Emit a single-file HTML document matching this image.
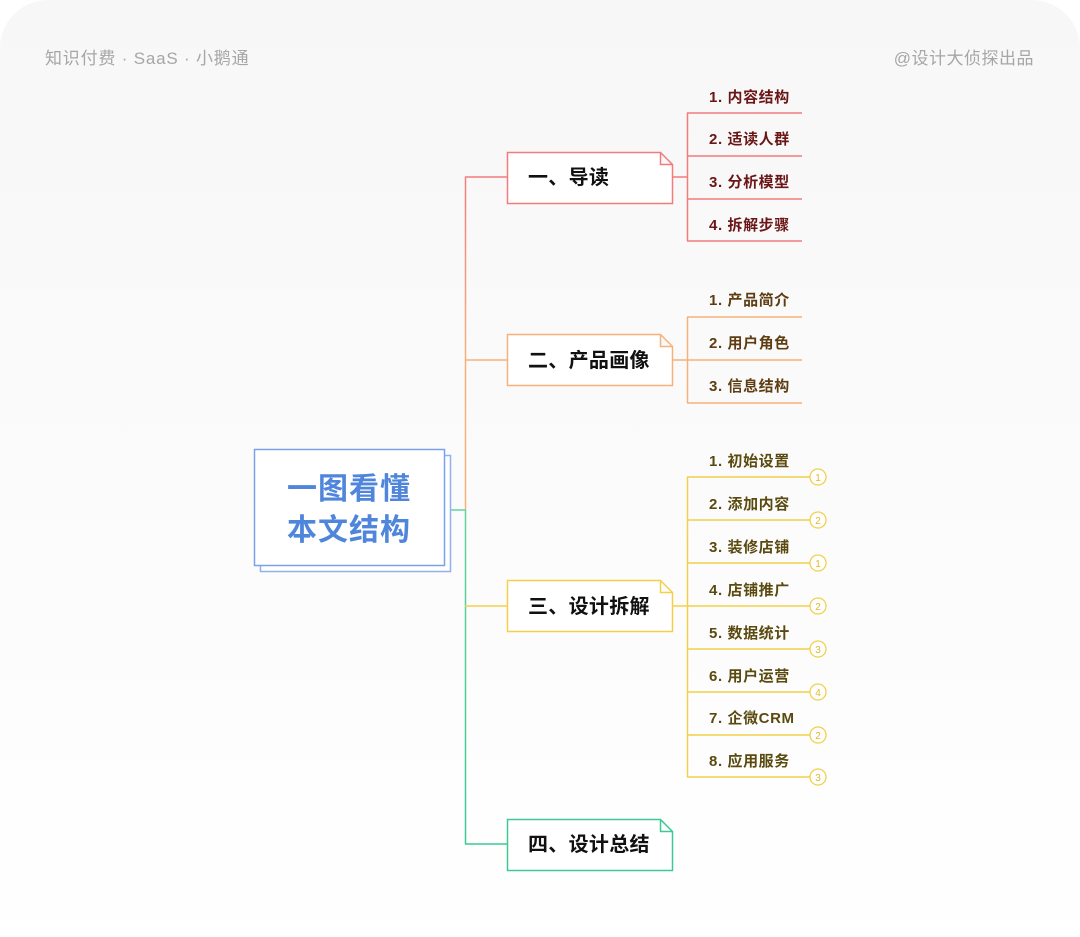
<!DOCTYPE html>
<html><head><meta charset="utf-8"><style>
html,body{margin:0;padding:0;background:#fff;}
body{width:1080px;height:937px;overflow:hidden;}
svg{display:block;font-family:"Liberation Sans","Noto Sans CJK SC",sans-serif;}
</style></head><body>
<svg width="1080" height="937" viewBox="0 0 1080 937">
<defs>
<linearGradient id="bg" x1="0" y1="0" x2="0" y2="1"><stop offset="0" stop-color="#f7f7f7"/><stop offset="1" stop-color="#ffffff"/></linearGradient>
<linearGradient id="tr" x1="0" y1="177" x2="0" y2="844" gradientUnits="userSpaceOnUse">
<stop offset="0" stop-color="#f47b7b"/><stop offset="0.25" stop-color="#f6ad7c"/><stop offset="0.5" stop-color="#f6b27a"/><stop offset="0.5" stop-color="#5fd4a0"/><stop offset="1" stop-color="#3cc994"/></linearGradient>
</defs>
<rect x="0" y="0" width="1080" height="960" rx="48" fill="url(#bg)"/>
<text x="45" y="64" font-size="17" letter-spacing="0.8" fill="#a6a6a6">知识付费 · SaaS · 小鹅通</text>
<text x="1034" y="64" font-size="17" letter-spacing="0.5" fill="#a6a6a6" text-anchor="end">@设计大侦探出品</text>

<path d="M465.5 177V844" stroke="url(#tr)" stroke-width="1.5" fill="none"/>
<path d="M465 177H507" stroke="#f47b7b" stroke-width="1.5"/>
<path d="M465 360H507" stroke="#f6b27a" stroke-width="1.5"/>
<path d="M465 606H507" stroke="#f2d04a" stroke-width="1.5"/>
<path d="M465 844H507" stroke="#3cc994" stroke-width="1.5"/>
<path d="M450 510H466" stroke="#5fd4a0" stroke-width="1.5"/>

<rect x="260.5" y="455.5" width="190" height="116" fill="#fff" stroke="#8fb2ee" stroke-width="1.5"/>
<rect x="254.5" y="449.5" width="190" height="116" fill="#fff" stroke="#7aa2ea" stroke-width="1.5"/>
<text x="349" y="499" font-size="30" font-weight="bold" letter-spacing="1" fill="#4f86dc" text-anchor="middle">一图看懂</text>
<text x="349" y="540" font-size="30" font-weight="bold" letter-spacing="1" fill="#4f86dc" text-anchor="middle">本文结构</text>

<g stroke-width="1.5" fill="#fff">
<path d="M507.5 152.5H660.5L672.5 164.5V203.5H507.5Z M660.5 152.5V164.5H672.5" stroke="#f47b7b"/>
<path d="M507.5 334.5H660.5L672.5 346.5V385.5H507.5Z M660.5 334.5V346.5H672.5" stroke="#f6b27a"/>
<path d="M507.5 580.5H660.5L672.5 592.5V631.5H507.5Z M660.5 580.5V592.5H672.5" stroke="#f2d04a"/>
<path d="M507.5 819.5H660.5L672.5 831.5V870.5H507.5Z M660.5 819.5V831.5H672.5" stroke="#3cc994"/>
</g>
<g font-size="20" font-weight="bold" fill="#111" letter-spacing="0.3">
<text x="528" y="184">一、导读</text>
<text x="528" y="367">二、产品画像</text>
<text x="528" y="613">三、设计拆解</text>
<text x="528" y="851">四、设计总结</text>
</g>

<g stroke="#f47b7b" stroke-width="1.5" fill="none">
<path d="M672 177H687.5M687.5 113V241M687 113H802M687 156H802M687 199H802M687 241H802"/>
</g>
<g font-size="15" font-weight="bold" fill="#6b1616" letter-spacing="0.6">
<text x="709" y="102">1. 内容结构</text>
<text x="709" y="144">2. 适读人群</text>
<text x="709" y="187">3. 分析模型</text>
<text x="709" y="230">4. 拆解步骤</text>
</g>

<g stroke="#f6b27a" stroke-width="1.5" fill="none">
<path d="M672 360H687.5M687.5 317V403M687 317H802M687 360H802M687 403H802"/>
</g>
<g font-size="15" font-weight="bold" fill="#5e3d12" letter-spacing="0.6">
<text x="709" y="305">1. 产品简介</text>
<text x="709" y="348">2. 用户角色</text>
<text x="709" y="391">3. 信息结构</text>
</g>

<g stroke="#f2d04a" stroke-width="1.5" fill="none">
<path d="M672 606H687.5M687.5 477V777M687 477H810M687 520H810M687 563H810M687 606H810M687 649H810M687 692H810M687 735H810M687 777H810"/>
</g>
<g stroke="#f2d04a" stroke-width="1.3" fill="#fff">
<circle cx="818" cy="477" r="8"/><circle cx="818" cy="520" r="8"/><circle cx="818" cy="563" r="8"/><circle cx="818" cy="606" r="8"/>
<circle cx="818" cy="649" r="8"/><circle cx="818" cy="692" r="8"/><circle cx="818" cy="735" r="8"/><circle cx="818" cy="777" r="8"/>
</g>
<g font-size="10" fill="#e0b830" text-anchor="middle">
<text x="818" y="481">1</text><text x="818" y="524">2</text><text x="818" y="567">1</text><text x="818" y="610">2</text>
<text x="818" y="653">3</text><text x="818" y="696">4</text><text x="818" y="739">2</text><text x="818" y="781">3</text>
</g>
<g font-size="15" font-weight="bold" fill="#5a4a10" letter-spacing="0.6">
<text x="709" y="466">1. 初始设置</text>
<text x="709" y="509">2. 添加内容</text>
<text x="709" y="552">3. 装修店铺</text>
<text x="709" y="595">4. 店铺推广</text>
<text x="709" y="638">5. 数据统计</text>
<text x="709" y="681">6. 用户运营</text>
<text x="709" y="723">7. 企微CRM</text>
<text x="709" y="766">8. 应用服务</text>
</g>
</svg>
</body></html>
